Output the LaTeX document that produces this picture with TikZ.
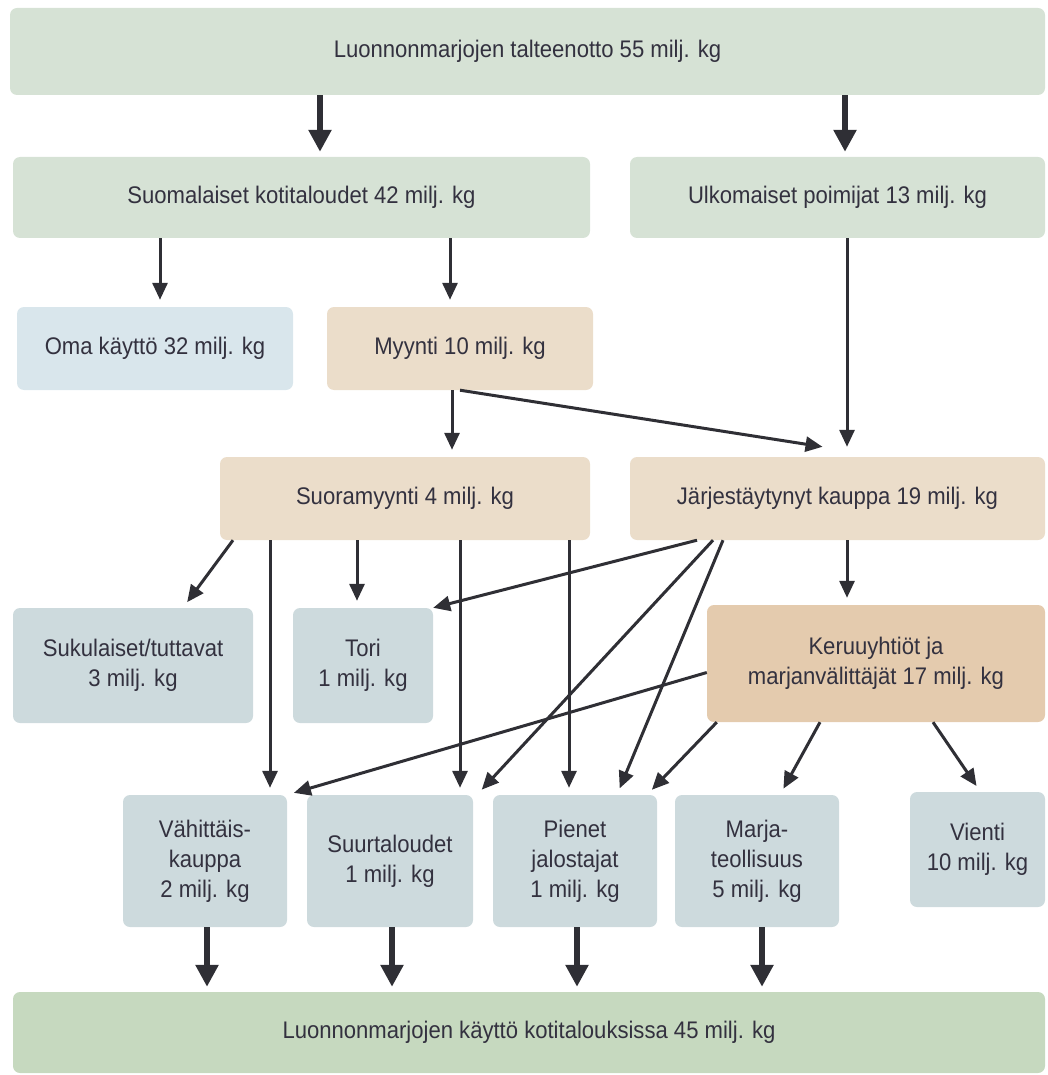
\documentclass[tikz,border=0pt]{standalone}
\usepackage{fontspec}
\setmainfont{Liberation Sans}[FakeStretch=0.92]
\usetikzlibrary{arrows.meta}
\definecolor{greenbox}{HTML}{D6E2D5}
\definecolor{usebox}{HTML}{C6D9BF}
\definecolor{ownbox}{HTML}{D9E6EC}
\definecolor{salebox}{HTML}{EBDDCA}
\definecolor{tradebox}{HTML}{E4CBAE}
\definecolor{endbox}{HTML}{CDDADD}
\definecolor{labeltext}{HTML}{33313F}
\definecolor{flowc}{HTML}{2F2F35}
\begin{document}
\begin{tikzpicture}[x=1pt,y=-1pt,
    flowbox/.style={rounded corners=7pt,inner sep=0pt,align=center,text=labeltext,
      font=\fontsize{24}{30}\selectfont},
    thinflow/.style={draw=flowc,line width=3pt,-{Triangle[length=17pt,width=15pt]},shorten >=7pt},
    thickflow/.style={draw=flowc,line width=6.5pt,-{Triangle[length=22pt,width=22pt]},shorten >=5pt}]
  \useasboundingbox (0,0) rectangle (1047,1075);
  % boxes
  \node[flowbox,fill=greenbox,minimum width=1035pt,minimum height=87pt] (talteen) at (527.5,51.5) {Luonnonmarjojen talteenotto 55 milj. kg};
  \node[flowbox,fill=greenbox,minimum width=577pt,minimum height=81pt] (suomi) at (301.5,197.5) {Suomalaiset kotitaloudet 42 milj. kg};
  \node[flowbox,fill=greenbox,minimum width=415pt,minimum height=81pt] (ulko) at (837.5,197.5) {Ulkomaiset poimijat 13 milj. kg};
  \node[flowbox,fill=ownbox,minimum width=276pt,minimum height=83pt] (oma) at (155,348.5) {Oma käyttö 32 milj. kg};
  \node[flowbox,fill=salebox,minimum width=266pt,minimum height=83pt] (myynti) at (460,348.5) {Myynti 10 milj. kg};
  \node[flowbox,fill=salebox,minimum width=370pt,minimum height=83pt] (suora) at (405,498.5) {Suoramyynti 4 milj. kg};
  \node[flowbox,fill=salebox,minimum width=415pt,minimum height=83pt] (jarj) at (837.5,498.5) {Järjestäytynyt kauppa 19 milj. kg};
  \node[flowbox,fill=endbox,minimum width=240pt,minimum height=115pt] (suku) at (133,665.5) {Sukulaiset/tuttavat\\3 milj. kg};
  \node[flowbox,fill=endbox,minimum width=140pt,minimum height=115pt] (tori) at (363,665.5) {Tori\\1 milj. kg};
  \node[flowbox,fill=tradebox,minimum width=338pt,minimum height=117pt] (keruu) at (876,663.5) {Keruuyhtiöt ja\\marjanvälittäjät 17 milj. kg};
  \node[flowbox,fill=endbox,minimum width=164pt,minimum height=132pt] (vaht) at (205,861) {Vähittäis-\\kauppa\\2 milj. kg};
  \node[flowbox,fill=endbox,minimum width=166pt,minimum height=132pt] (suurt) at (390,861) {Suurtaloudet\\1 milj. kg};
  \node[flowbox,fill=endbox,minimum width=164pt,minimum height=132pt] (pienet) at (575,861) {Pienet\\jalostajat\\1 milj. kg};
  \node[flowbox,fill=endbox,minimum width=164pt,minimum height=132pt] (marja) at (757,861) {Marja-\\teollisuus\\5 milj. kg};
  \node[flowbox,fill=endbox,minimum width=135pt,minimum height=115pt] (vienti) at (977.5,849.5) {Vienti\\10 milj. kg};
  \node[flowbox,fill=usebox,minimum width=1032pt,minimum height=81pt] (kaytto) at (529,1032.5) {Luonnonmarjojen käyttö kotitalouksissa 45 milj. kg};
  % thick arrows
  \begin{scope}[thickflow]
    \draw ([xshift=-207.5pt]talteen.south) to ([xshift=18.5pt]suomi.north);
    \draw ([xshift=317.5pt]talteen.south) to ([xshift=7.5pt]ulko.north);
    \draw ([xshift=2pt]vaht.south) to ([xshift=2pt]vaht.south |- kaytto.north);
    \draw ([xshift=2pt]suurt.south) to ([xshift=2pt]suurt.south |- kaytto.north);
    \draw ([xshift=2pt]pienet.south) to ([xshift=2pt]pienet.south |- kaytto.north);
    \draw ([xshift=5pt]marja.south) to ([xshift=5pt]marja.south |- kaytto.north);
  \end{scope}
  % thin arrows
  \begin{scope}[thinflow]
    \draw ([xshift=-141.5pt]suomi.south) to ([xshift=5pt]oma.north);
    \draw ([xshift=148.5pt]suomi.south) to ([xshift=-10pt]myynti.north);
    \draw[shorten >=10pt] ([xshift=9.5pt]ulko.south) to ([xshift=9.5pt]jarj.north);
    \draw ([xshift=-8pt]myynti.south) to ([xshift=47pt]suora.north);
    \draw[shorten >=0pt] (myynti.south) to ([xshift=-15pt,yshift=10pt]jarj.north);
    \draw ([xshift=-172pt]suora.south) to ([xshift=50pt]suku.north);
    \draw ([xshift=-135pt]suora.south) to ([xshift=65pt]vaht.north);
    \draw ([xshift=-48pt]suora.south) to ([xshift=-6pt]tori.north);
    \draw ([xshift=55pt]suora.south) to ([xshift=70pt]suurt.north);
    \draw ([xshift=164pt]suora.south) to ([xshift=-6pt]pienet.north);
    \draw[shorten >=0pt] ([xshift=-140.5pt]jarj.south) to (tori.north east);
    \draw ([xshift=-124.5pt]jarj.south) to ([xshift=87pt]suurt.north);
    \draw ([xshift=-114.5pt]jarj.south) to ([xshift=42pt]pienet.north);
    \draw ([xshift=9.5pt]jarj.south) to ([xshift=-29pt]keruu.north);
    \draw ([yshift=-9pt]keruu.west) to (vaht.north east);
    \draw ([xshift=10pt]keruu.south west) to ([xshift=72pt]pienet.north);
    \draw ([xshift=-56pt]keruu.south) to ([xshift=23pt]marja.north);
    \draw ([xshift=57pt]keruu.south) to ([xshift=3pt]vienti.north);
  \end{scope}
\end{tikzpicture}
\end{document}
